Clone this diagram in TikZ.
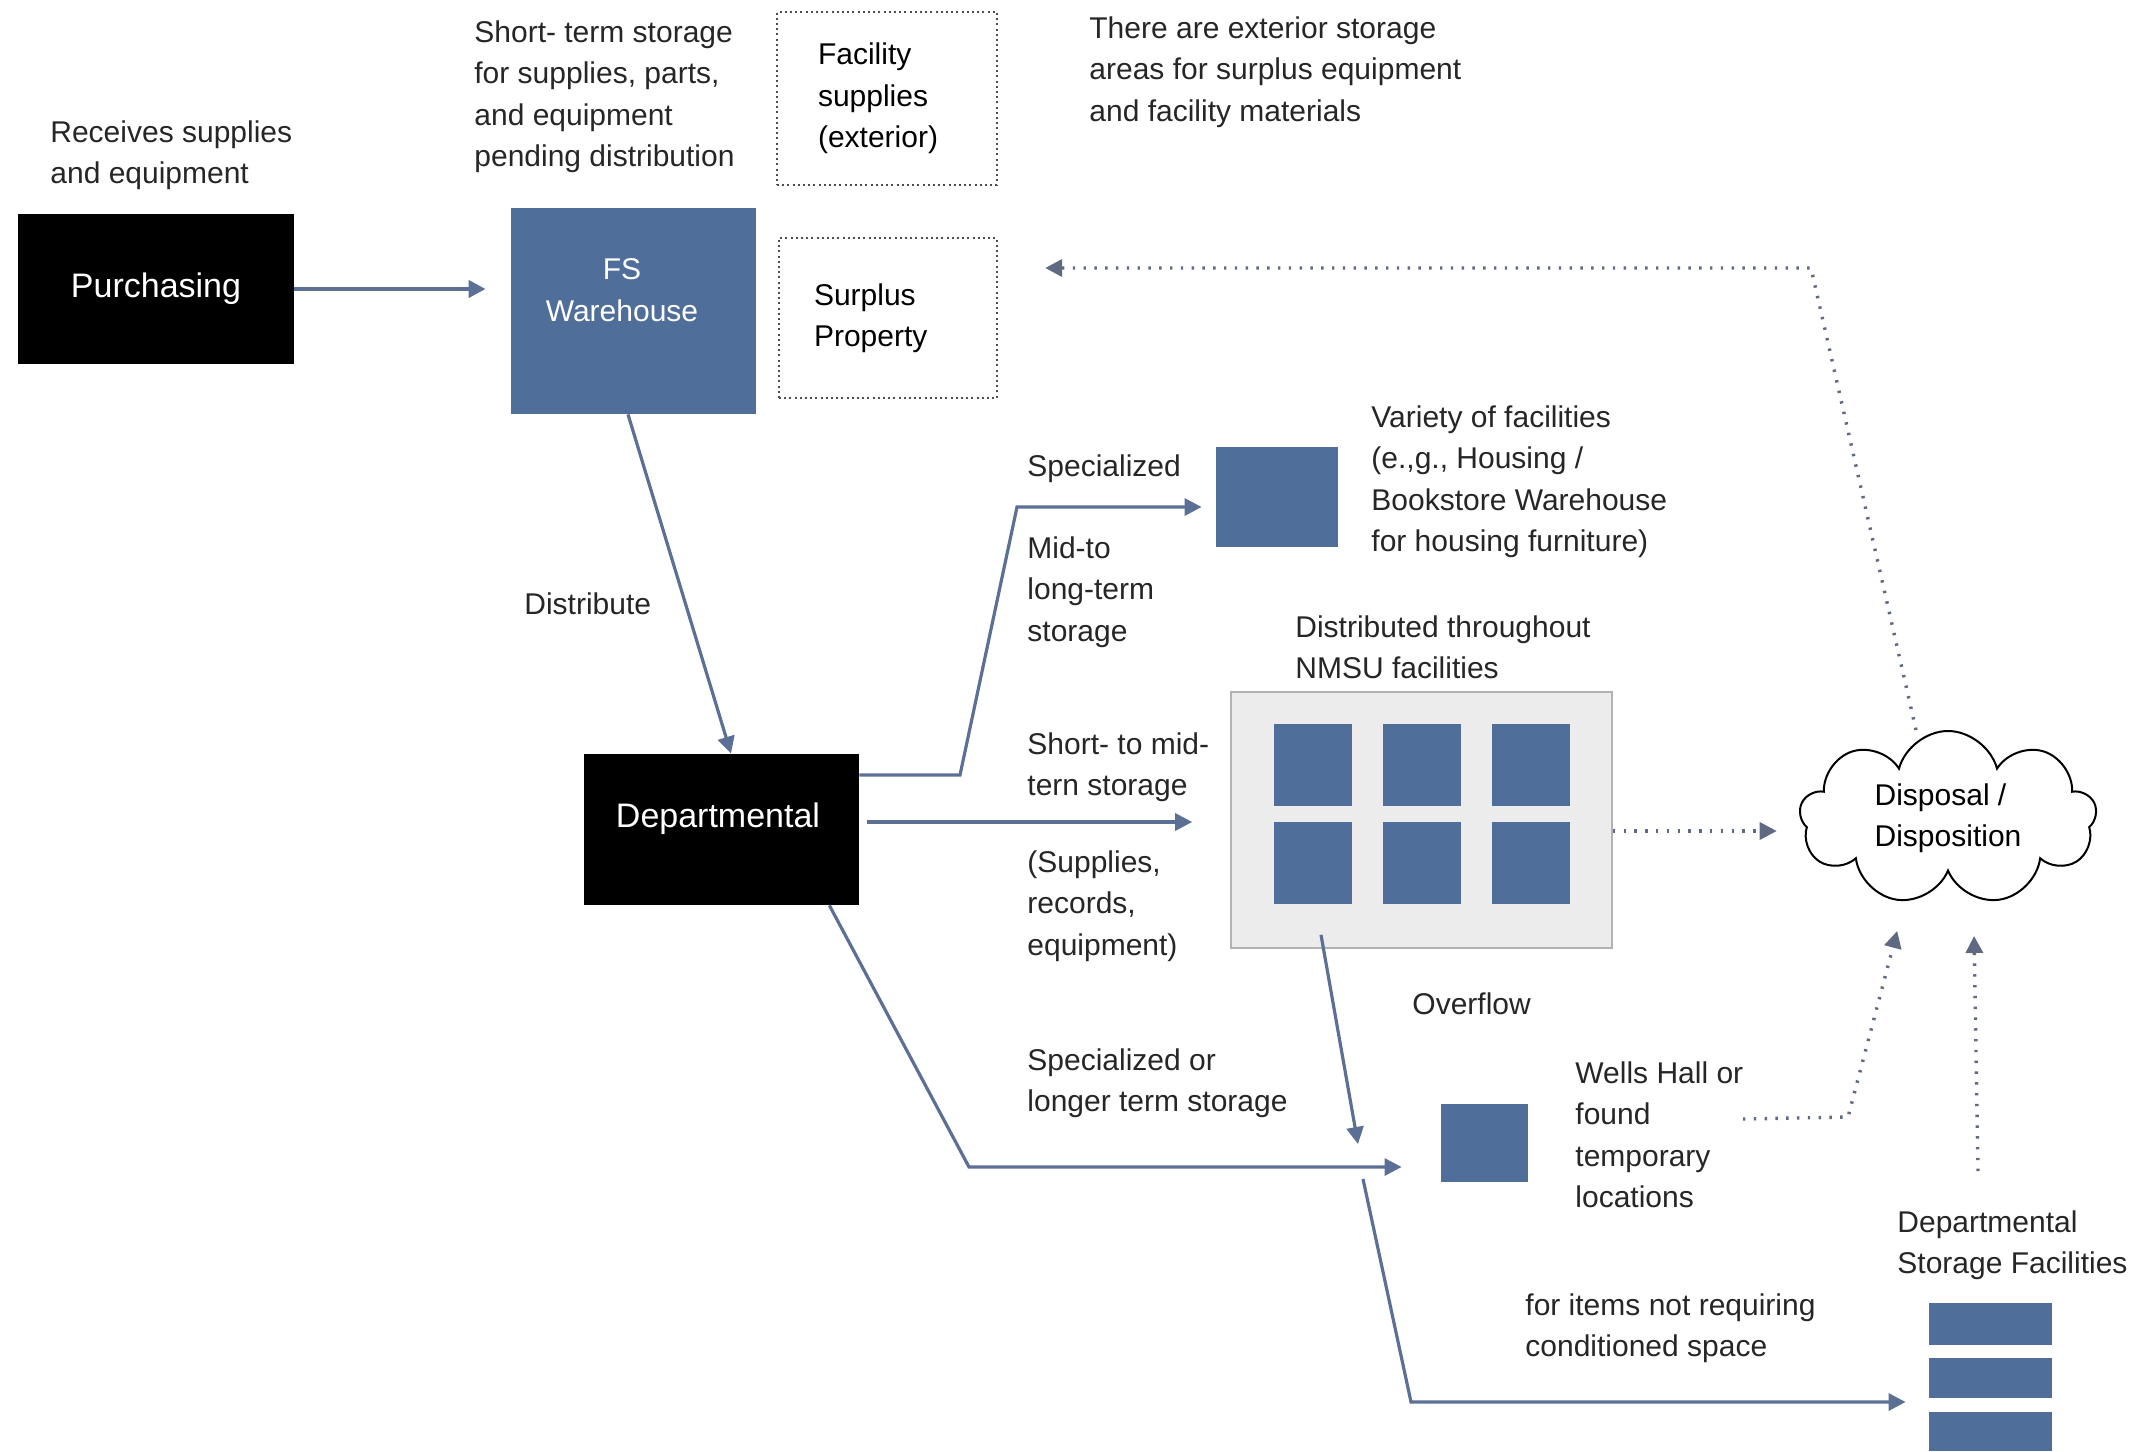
\documentclass[tikz,border=0pt]{standalone}
\usepackage{fontspec}
\setmainfont{Liberation Sans}
\usetikzlibrary{arrows.meta,shapes.symbols}
\definecolor{boxblue}{RGB}{79,110,153}
\definecolor{linkblue}{RGB}{92,112,150}
\definecolor{dotgray}{RGB}{95,105,130}
\definecolor{gridgray}{RGB}{236,236,236}
\begin{document}
\begin{tikzpicture}[x=0.5pt, y=-0.5pt,
  font=\fontsize{15}{20.75}\selectfont,
  note/.style={anchor=north west, inner sep=0pt, align=left, text=black!85},
  blackbox/.style={fill=black, text=white, font=\fontsize{17}{20}\selectfont, inner sep=0pt},
  bluebox/.style={fill=boxblue, inner sep=0pt},
  dotbox/.style={draw=black!70, line width=1.2pt, dash pattern=on 1pt off 1.6pt, align=left, inner ysep=0pt},
  flow/.style={draw=linkblue, line width=1.6pt, -{Triangle[length=8.5pt,width=8.5pt]}},
  dotflow/.style={draw=dotgray, line width=1.7pt, dash pattern=on 1.2pt off 4.2pt, -{Triangle[length=8.5pt,width=8.5pt]}}]
\useasboundingbox (0,0) rectangle (2135,1451);
% boxes
\node[blackbox, minimum width=138pt, minimum height=75pt] (purch) at (156,289) {Purchasing};
\node[bluebox, minimum width=122.5pt, minimum height=103pt] (wh) at (633.5,311) {};
\node[text=white, align=center] (whtxt) at (622,290) {FS\\Warehouse};
\node[blackbox, minimum width=137.5pt, minimum height=75.5pt] (dept) at (721.5,829.5) {};
\node[text=white, font=\fontsize{17}{20}\selectfont] (depttxt) at (718,819) {Departmental};
\node[dotbox, text width=69pt, inner xsep=20.5pt, minimum height=86.5pt] (facil) at (887,98.5) {Facility\\supplies\\(exterior)};
\node[dotbox, text width=74pt, inner xsep=17.5pt, minimum height=80pt] (surplus) at (888,318) {Surplus\\Property};
\node[bluebox, minimum width=61pt, minimum height=50pt] (varsq) at (1277,497) {};
\node[fill=gridgray, draw=black!30, line width=0.8pt, inner sep=0pt, minimum width=190.5pt, minimum height=128pt] (grid) at (1421.5,820) {};
\foreach \cx [count=\i] in {1313,1422,1531}
  \foreach \cy [count=\j] in {764.5,862.5}
    \node[bluebox, minimum width=39pt, minimum height=41pt] (cell\i\j) at (\cx,\cy) {};
\node[cloud, cloud puffs=9, aspect=1.8, draw=black, fill=white, line width=1pt, inner sep=0pt, minimum width=148.5pt, minimum height=87pt, align=left] (disp) at (1948,818) {Disposal /\\Disposition};
\node[bluebox, minimum width=43.5pt, minimum height=39pt] (wells) at (1484.5,1143) {};
\foreach \cy/\h [count=\k] in {1324/21,1378/20,1431.5/19.5}
  \node[bluebox, minimum width=61.5pt, minimum height=\h pt] (bar\k) at (1990.5,\cy) {};
% notes
\node[note] (recv) at (50,120) {Receives supplies\\and equipment};
\node[note] (whnote) at (474,20) {Short- term storage\\for supplies, parts,\\and equipment\\pending distribution};
\node[note] (extnote) at (1089,16) {There are exterior storage\\areas for surplus equipment\\and facility materials};
\node[note] (distr) at (524,592) {Distribute};
\node[note] (spec) at (1027,454) {Specialized};
\node[note] (midlong) at (1027,536) {Mid-to\\long-term\\storage};
\node[note] (variety) at (1371,405) {Variety of facilities\\(e.,g., Housing /\\Bookstore Warehouse\\for housing furniture)};
\node[note] (nmsu) at (1295,615) {Distributed throughout\\NMSU facilities};
\node[note] (shortmid) at (1027,732) {Short- to mid-\\tern storage};
\node[note] (supp) at (1027,850) {(Supplies,\\records,\\equipment)};
\node[note] (overfl) at (1412,992) {Overflow};
\node[note] (speclong) at (1027,1048) {Specialized or\\longer term storage};
\node[note] (wellstxt) at (1575,1061) {Wells Hall or\\found\\temporary\\locations};
\node[note] (itemstxt) at (1525,1293) {for items not requiring\\conditioned space};
\node[note] (dsftxt) at (1897,1210) {Departmental\\Storage Facilities};
% bends
\coordinate (sb1) at (960,775);
\coordinate (sb2) at (1017,507);
\coordinate (rt) at (1811,268);
\coordinate (ovtip) at (1358,1144);
\coordinate (lb) at (969,1167);
\coordinate (bs) at (1363,1179);
\coordinate (bb) at (1411,1402);
\coordinate (wd) at (1743,1119);
\coordinate (wb) at (1848,1117);
\coordinate (dd) at (1978,1171);
% connectors
\draw[flow, line width=2pt, shorten >=12.5pt] (purch.east) -- (purch.east -| wh.west);
\draw[flow] ([xshift=-2.75pt]wh.south) -- ([xshift=4.75pt]dept.north);
\draw[flow, shorten >=7pt] ([yshift=27.25pt]dept.east) -- (sb1) -- (sb2) -- (sb2 -| varsq.west);
\draw[flow, shorten <=4pt, shorten >=19pt] ([yshift=3.75pt]dept.east) -- ([yshift=3.75pt]dept.east -| grid.west);
\draw[dotflow, shorten >=11.5pt] ([yshift=-5.5pt]grid.east) -- ([yshift=-5.5pt]grid.east -| disp.west);
\draw[dotflow, shorten >=23.5pt] ([xshift=-16pt]disp.north) -- (rt) -- (rt -| surplus.east);
\draw[flow] ([xshift=-50.25pt,yshift=7pt]grid.south) -- (ovtip);
\draw[flow, shorten >=19.5pt] ([xshift=-15pt]dept.south east) -- (lb) -- (lb -| wells.west);
\draw[flow, shorten >=11.5pt] (bs) -- (bb) -- (bb -| bar2.west);
\draw[dotflow, shorten >=30pt] (wd) -- (wb) -- ([xshift=-17.75pt]disp.south);
\draw[dotflow, shorten >=31.5pt] (dd) -- ([xshift=12.5pt]disp.south);
\end{tikzpicture}
\end{document}
